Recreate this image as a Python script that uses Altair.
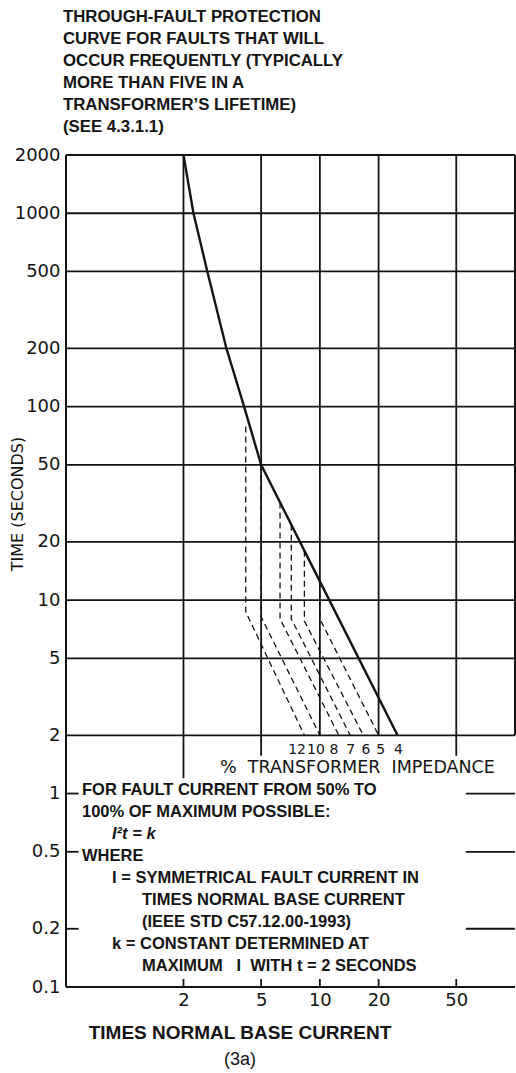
import altair as alt
import pandas as pd

# ---------------- data ----------------
X_DOMAIN = [0.5, 100]
Y_DOMAIN = [0.1, 2000]
X_TICK_VALUES = [2, 5, 10, 20, 50]
Y_TICK_VALUES = [0.1, 0.2, 0.5, 1, 2, 5, 10, 20, 50, 100, 200, 500, 1000, 2000]

# through-fault protection curve (solid)
CURVE_I = [2.0, 2.25, 2.65, 3.32, 4.09, 5.0, 10.0, 25.0]
CURVE_T = [2000, 1000, 500, 200, 100, 50, 12.5, 2.0]

# dashed curves for each % transformer impedance
IMPEDANCE_PCT = [12, 10, 8, 7, 6, 5]
DASH_TOP_I = [4.17, 5.0, 6.25, 7.14, 8.33, 10.0]
DASH_TOP_T = [79, 50, 32, 24.5, 18, 12.5]
DASH_BEND_T = [8.7, 8.2, 8.0, 8.0, 7.8, 8.0]
DASH_END_I = [8.33, 10.0, 12.5, 14.3, 16.7, 20.0]
DASH_END_T = [2, 2, 2, 2, 2, 2]

IMP_LABEL_TEXT = ["12", "10", "8", "7", "6", "5", "4"]
IMP_LABEL_I = [7.64, 9.54, 11.8, 14.4, 17.2, 20.5, 25.3]
IMP_LABEL_T = [1.67] * 7

GRID_T = [2, 5, 10, 20, 50, 100, 200, 500, 1000, 2000]
GRID_I = [2, 5, 10, 20, 50]
GRID_I_LOW_END = [1.2, 1.57, 2, 2, 1.57]
SIDE_TICK_T = [1, 0.5, 0.2]

TITLE_LINES = [
    "THROUGH-FAULT PROTECTION",
    "CURVE FOR FAULTS THAT WILL",
    "OCCUR FREQUENTLY (TYPICALLY",
    "MORE THAN FIVE IN A",
    "TRANSFORMER\u2019S LIFETIME)",
    "(SEE 4.3.1.1)",
]
NB = "\u00a0"
NOTE_LINES = [
    "FOR FAULT CURRENT FROM 50% TO",
    "100% OF MAXIMUM POSSIBLE:",
    "I\u00b2t = k",
    "WHERE",
    "I = SYMMETRICAL FAULT CURRENT IN",
    "TIMES NORMAL BASE CURRENT",
    "(IEEE STD C57.12.00-1993)",
    "k = CONSTANT DETERMINED AT",
    "MAXIMUM" + NB * 3 + "I" + NB * 2 + "WITH t = 2 SECONDS",
]
NOTE_INDENT = [0, 0, 1, 0, 1, 2, 2, 1, 2]
IMPEDANCE_CAPTION = "%" + NB * 2 + "TRANSFORMER" + NB * 2 + "IMPEDANCE"

# ---------------- layout ----------------
LEFT, TOP = 66, 155
W, H = 449, 832
INK = "#141414"
BOLD_FONT = "Liberation Sans"
THIN_FONT = "DejaVu Sans"

xs = alt.Scale(type="log", domain=X_DOMAIN, nice=False)
ys = alt.Scale(type="log", domain=Y_DOMAIN, nice=False)

X_AX = alt.Axis(values=X_TICK_VALUES, format="~g", title=None, domain=False, ticks=False,
                grid=False, labelFont=THIN_FONT, labelFontSize=18, labelColor=INK,
                labelPadding=4, labelOverlap=False, labelFlush=False)
Y_AX = alt.Axis(values=Y_TICK_VALUES, format="~g", title=None, domain=False, ticks=False,
                grid=False, labelFont=THIN_FONT, labelFontSize=18, labelColor=INK,
                labelPadding=6, labelOverlap=False, labelFlush=False)


def X(f):
    return alt.X(f, type="quantitative", scale=xs, axis=X_AX)


def Y(f):
    return alt.Y(f, type="quantitative", scale=ys, axis=Y_AX)


layers = []

# horizontal grid lines (upper part)
hgrid = pd.DataFrame({"y": GRID_T, "x": X_DOMAIN[0], "x2": X_DOMAIN[1]})
layers.append(alt.Chart(hgrid).mark_rule(color=INK, strokeWidth=1.8).encode(
    x=X("x"), x2="x2", y=Y("y")))

# vertical grid lines
vgrid = pd.DataFrame({"x": GRID_I, "y": Y_DOMAIN[1], "y2": GRID_I_LOW_END})
layers.append(alt.Chart(vgrid).mark_rule(color=INK, strokeWidth=1.8).encode(
    x=X("x"), y=Y("y"), y2="y2"))

# frame: left, right (upper part), bottom
frame_v = pd.DataFrame({"x": [X_DOMAIN[0], X_DOMAIN[1]], "y": [Y_DOMAIN[0], 2], "y2": [Y_DOMAIN[1], Y_DOMAIN[1]]})
layers.append(alt.Chart(frame_v).mark_rule(color=INK, strokeWidth=2).encode(
    x=X("x"), y=Y("y"), y2="y2"))
frame_h = pd.DataFrame({"y": [Y_DOMAIN[0]], "x": [X_DOMAIN[0]], "x2": [X_DOMAIN[1]]})
layers.append(alt.Chart(frame_h).mark_rule(color=INK, strokeWidth=2).encode(
    x=X("x"), x2="x2", y=Y("y")))

# small side ticks in the lower part
left_ticks = pd.DataFrame({"y": SIDE_TICK_T, "x": X_DOMAIN[0], "x2": 0.58})
right_ticks = pd.DataFrame({"y": SIDE_TICK_T, "x": 56, "x2": X_DOMAIN[1]})
for d in (left_ticks, right_ticks):
    layers.append(alt.Chart(d).mark_rule(color=INK, strokeWidth=1.8).encode(
        x=X("x"), x2="x2", y=Y("y")))
bottom_ticks = pd.DataFrame({"x": X_TICK_VALUES, "y": Y_DOMAIN[0], "y2": 0.11})
layers.append(alt.Chart(bottom_ticks).mark_rule(color=INK, strokeWidth=1.8).encode(
    x=X("x"), y=Y("y"), y2="y2"))

# dashed impedance curves
rows = []
for z, ti, tt, bt, ei, et in zip(IMPEDANCE_PCT, DASH_TOP_I, DASH_TOP_T, DASH_BEND_T, DASH_END_I, DASH_END_T):
    rows.append({"z": z, "o": 0, "i": ti, "t": tt})
    rows.append({"z": z, "o": 1, "i": ti, "t": bt})
    rows.append({"z": z, "o": 2, "i": ei, "t": et})
dash = pd.DataFrame(rows)
layers.append(alt.Chart(dash).mark_line(color=INK, strokeWidth=1.3, strokeDash=[6, 4]).encode(
    x=X("i"), y=Y("t"), detail="z:N", order="o:Q"))

# solid curve
curve = pd.DataFrame({"i": CURVE_I, "t": CURVE_T})
layers.append(alt.Chart(curve).mark_line(color=INK, strokeWidth=2.4).encode(
    x=X("i"), y=Y("t")))

# impedance labels
lab = pd.DataFrame({"i": IMP_LABEL_I, "t": IMP_LABEL_T, "s": IMP_LABEL_TEXT})
layers.append(alt.Chart(lab).mark_text(font=THIN_FONT, fontSize=14, color=INK, baseline="middle").encode(
    x=X("i"), y=Y("t"), text="s:N"))


def text_layer(s, px, py, font, size, weight="normal", style="normal", align="left", angle=0):
    kw = dict(font=font, fontSize=size, fontWeight=weight, fontStyle=style, color=INK,
              align=align, baseline="middle")
    if angle:
        kw["angle"] = angle
    return alt.Chart(pd.DataFrame({"s": [s]})).mark_text(**kw).encode(
        text="s:N", x=alt.value(px), y=alt.value(py))


layers.append(text_layer(IMPEDANCE_CAPTION, 220 - LEFT, 768 - TOP, THIN_FONT, 17.5))

for k, line in enumerate(TITLE_LINES):
    layers.append(text_layer(line, 63 - LEFT, 17 + 22 * k - TOP, BOLD_FONT, 16.8, weight="bold"))

for k, (line, ind) in enumerate(zip(NOTE_LINES, NOTE_INDENT)):
    st = "italic" if k == 2 else "normal"
    layers.append(text_layer(line, 82 - LEFT + 30 * ind, 790 + 22 * k - TOP, BOLD_FONT, 16.5,
                             weight="bold", style=st))

layers.append(text_layer("TIME (SECONDS)", 18 - LEFT, 504 - TOP, THIN_FONT, 16, align="center", angle=270))
layers.append(text_layer("TIMES NORMAL BASE CURRENT", 240 - LEFT, 1033 - TOP, BOLD_FONT, 19,
                         weight="bold", align="center"))
layers.append(text_layer("(3a)", 240 - LEFT, 1060 - TOP, BOLD_FONT, 18, align="center"))

chart = alt.layer(*layers).properties(
    width=W, height=H,
    autosize=alt.AutoSizeParams(type="none"),
    padding={"left": LEFT, "top": TOP, "right": 516 - LEFT - W, "bottom": 1073 - TOP - H},
    background="white",
).configure_view(strokeWidth=0)

chart.save("out.html", embed_options={"renderer": "svg", "actions": False})
